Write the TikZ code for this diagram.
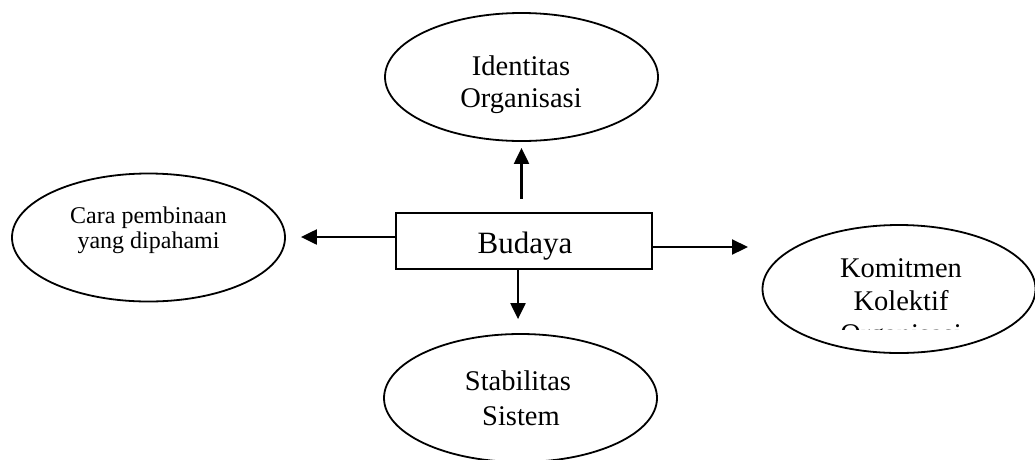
\documentclass[tikz,border=0pt]{standalone}
\usepackage{fontspec}
\setmainfont{Liberation Serif}
\usetikzlibrary{arrows.meta,shapes.geometric}
\begin{document}
\begin{tikzpicture}[x=1pt,y=-1pt,
  oval/.style={draw,line width=1.8pt,ellipse,minimum width=273pt,minimum height=128pt,inner sep=0pt},
  bigtxt/.style={anchor=base,inner sep=0pt,font=\fontsize{28.5}{33}\selectfont},
  smalltxt/.style={anchor=base,inner sep=0pt,font=\fontsize{24}{26}\selectfont},
  arr/.style={line width=2.2pt,-{Triangle[length=16pt,width=15pt]}},
  boxst/.style={draw,line width=2.2pt,minimum width=256pt,minimum height=56pt,inner sep=0pt}]
\useasboundingbox (0,0) rectangle (1035,459);
\clip (0,0) rectangle (1035,459);
% ellipses
\node[oval] (top) at (521.5,77) {};
\node[oval] (lft) at (148.5,237.5) {};
\node[oval] (rgt) at (899,289) {};
\node[oval] (bot) at (520.5,398) {};
% box
\node[boxst] (box) at (524,241) {};
\node[anchor=base,inner sep=0pt,font=\fontsize{31}{36}\selectfont] (budtxt) at (525,253) {Budaya};
% texts
\node[bigtxt] (t1) at (521,75) {Identitas};
\node[bigtxt] (t2) at (521,107) {Organisasi};
\node[smalltxt] (l1) at (148.5,223) {Cara pembinaan};
\node[smalltxt] (l2) at (148.5,248) {yang dipahami};
\node[bigtxt] (r1) at (901,277) {Komitmen};
\node[bigtxt] (r2) at (901,310) {Kolektif};
\begin{scope}
  \clip (760,0) rectangle (1035,329);
  \node[bigtxt] (r3) at (901,343) {Organisasi};
\end{scope}
\node[bigtxt] (b1) at (518,390) {Stabilitas};
\node[bigtxt] (b2) at (521,425) {Sistem};
% arrows
\coordinate (rtip) at (748,247);
\draw[arr,shorten <=13pt,shorten >=6pt] (box.north -| top.south) -- (top.south);
\draw[arr,shorten >=14pt] ([xshift=-2.5pt]bot.north |- box.south) -- ([xshift=-2.5pt]bot.north);
\draw[arr,shorten >=15pt] ([yshift=4pt]box.west) -- ([yshift=4pt]box.west -| lft.east);
\draw[arr] ([yshift=-6pt]box.east) -- (rtip);
\end{tikzpicture}
\end{document}
